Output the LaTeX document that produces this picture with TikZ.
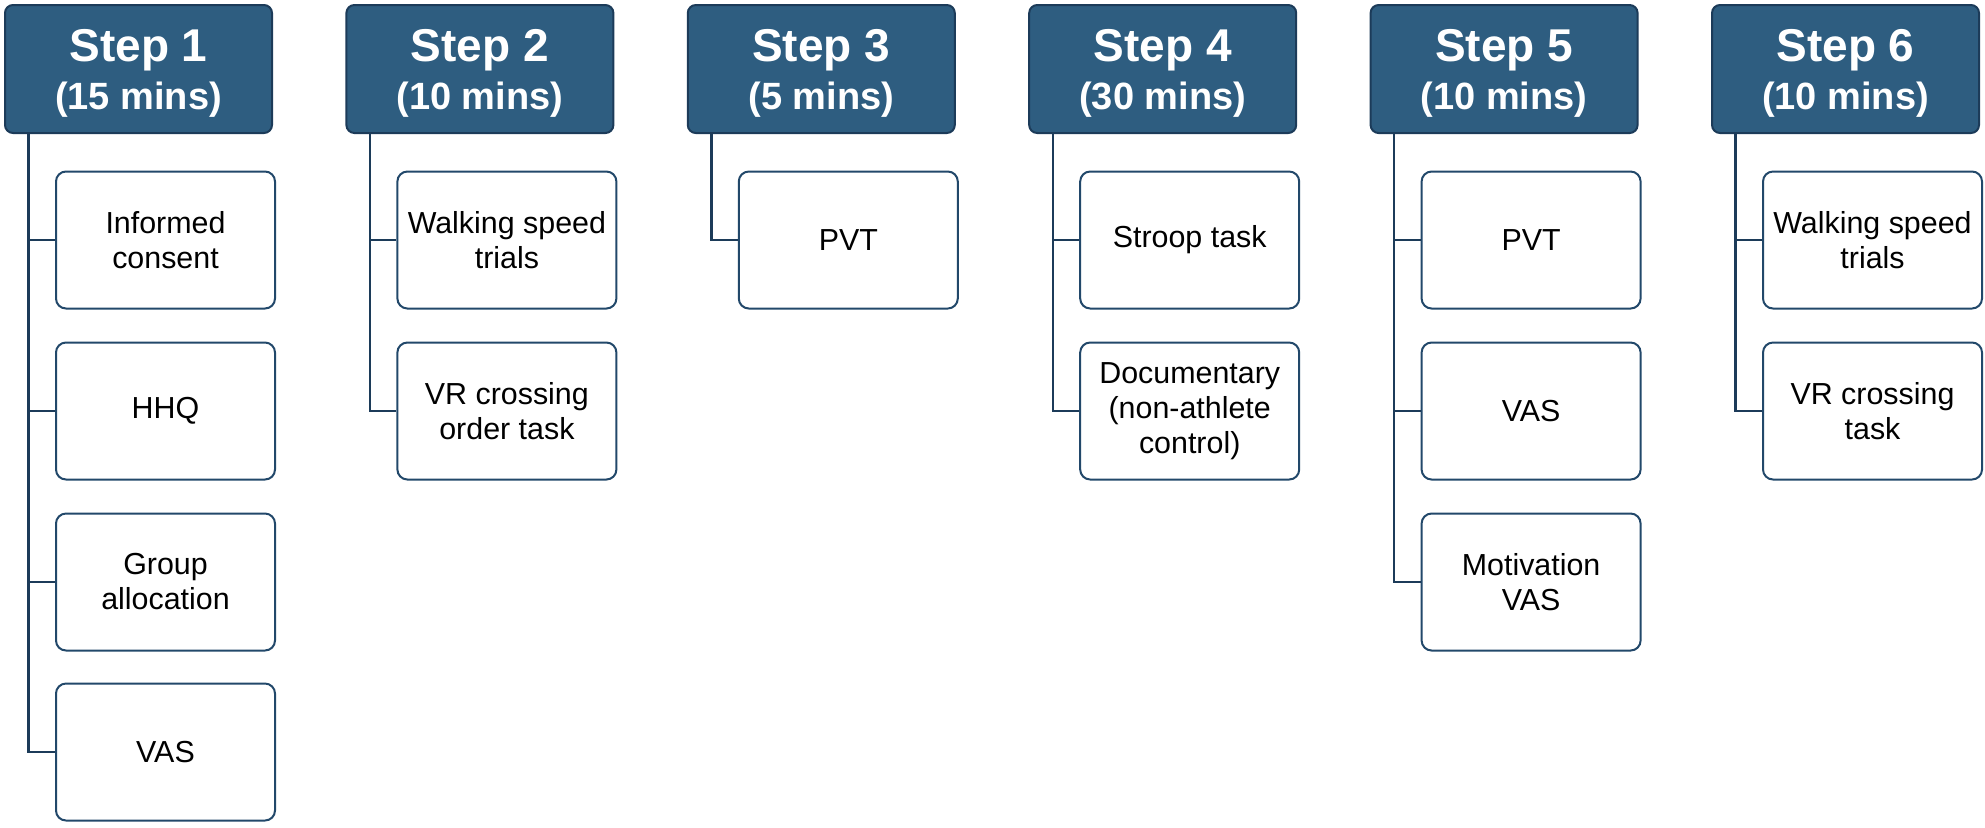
\documentclass[tikz,border=0pt]{standalone}
\usepackage{fontspec}
\setmainfont{Liberation Sans}
\definecolor{headfill}{HTML}{2E5D80}
\definecolor{headline}{HTML}{1C3B59}
\definecolor{boxline}{HTML}{22486A}
\newcommand{\hA}{\fontsize{23}{24}\selectfont\rule{0pt}{20pt}}
\newcommand{\hB}{\fontsize{19}{24}\selectfont}
\tikzset{
  head/.style={draw=headline, fill=headfill, line width=1pt, rounded corners=4pt,
    minimum width=133.5pt, minimum height=64pt, inner sep=0pt, align=center,
    text=white, font=\bfseries\fontsize{23}{24}\selectfont},
  item/.style={draw=boxline, fill=white, line width=1pt, rounded corners=5pt,
    minimum width=109.5pt, minimum height=68.5pt, inner sep=0pt, align=center,
    font=\fontsize{15.2}{17.5}\selectfont},
  conn/.style={draw=headline, line width=1.2pt}
}
\begin{document}
\begin{tikzpicture}[x=0.5pt,y=-0.5pt]
\useasboundingbox (0,0) rectangle (1985,827);
% headers
\node[head] (h1) at (138.5,69) {\hA Step 1\\\hB (15 mins)};
\node[head] (h2) at (479.9,69) {\hA Step 2\\\hB (10 mins)};
\node[head] (h3) at (821.3,69) {\hA Step 3\\\hB (5 mins)};
\node[head] (h4) at (1162.7,69) {\hA Step 4\\\hB (30 mins)};
\node[head] (h5) at (1504.1,69) {\hA Step 5\\\hB (10 mins)};
\node[head] (h6) at (1845.5,69) {\hA Step 6\\\hB (10 mins)};
% line tops
\coordinate (t1) at (28.5,133);
\coordinate (t2) at (369.9,133);
\coordinate (t3) at (711.3,133);
\coordinate (t4) at (1052.7,133);
\coordinate (t5) at (1394.1,133);
\coordinate (t6) at (1735.5,133);
% step 1
\node[item] (c11) at (165.5,240) {Informed\\consent};
\node[item] (c12) at (165.5,411) {HHQ};
\node[item] (c13) at (165.5,582) {Group\\allocation};
\node[item] (c14) at (165.5,752) {VAS};
% step 2
\node[item] (c21) at (506.9,240) {Walking speed\\trials};
\node[item] (c22) at (506.9,411) {VR crossing\\order task};
% step 3
\node[item] (c31) at (848.3,240) {PVT};
% step 4
\node[item] (c41) at (1189.7,240) {Stroop task};
\node[item] (c42) at (1189.7,411) {Documentary\\(non-athlete\\control)};
% step 5
\node[item] (c51) at (1531.1,240) {PVT};
\node[item] (c52) at (1531.1,411) {VAS};
\node[item] (c53) at (1531.1,582) {Motivation\\VAS};
% step 6
\node[item] (c61) at (1872.5,240) {Walking speed\\trials};
\node[item] (c62) at (1872.5,411) {VR crossing\\task};
% connectors
\draw[conn] (t1) |- (c14.west);
\draw[conn] (t1) |- (c11.west);
\draw[conn] (t1) |- (c12.west);
\draw[conn] (t1) |- (c13.west);
\draw[conn] (t2) |- (c22.west);
\draw[conn] (t2) |- (c21.west);
\draw[conn] (t3) |- (c31.west);
\draw[conn] (t4) |- (c42.west);
\draw[conn] (t4) |- (c41.west);
\draw[conn] (t5) |- (c53.west);
\draw[conn] (t5) |- (c51.west);
\draw[conn] (t5) |- (c52.west);
\draw[conn] (t6) |- (c62.west);
\draw[conn] (t6) |- (c61.west);
\end{tikzpicture}
\end{document}
